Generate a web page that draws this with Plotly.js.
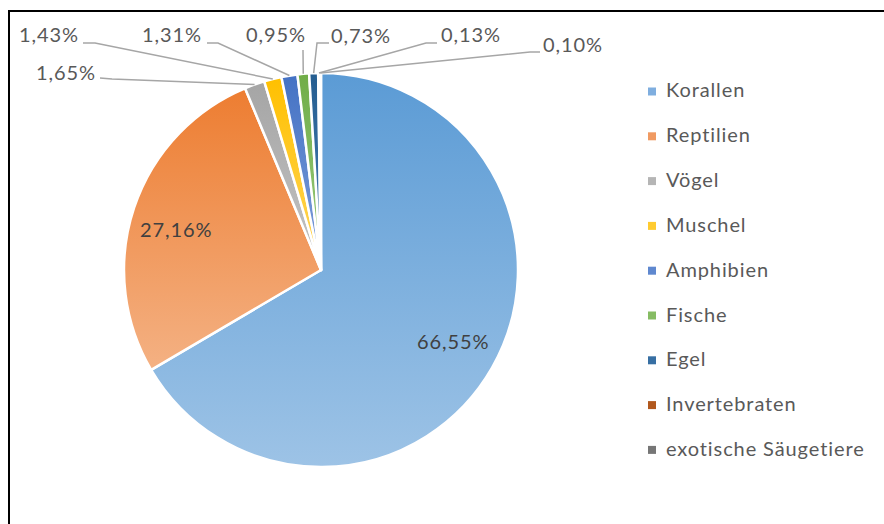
<!DOCTYPE html>
<html><head><meta charset="utf-8">
<script src="https://cdn.plot.ly/plotly-3.0.1.min.js"></script>
<style>html,body{margin:0;padding:0;background:#fff}#chart{width:884px;height:524px}
svg text{letter-spacing:0.9px}</style>
</head><body><div id="chart"></div>
<script>
// ---- data ----
const categories = ['Korallen','Reptilien','Vögel','Muschel','Amphibien','Fische','Egel','Invertebraten','exotische Säugetiere'];
const shares = [66.55, 27.16, 1.65, 1.43, 1.31, 0.95, 0.73, 0.13, 0.10];
const shareLabels = ['66,55%','27,16%','1,65%','1,43%','1,31%','0,95%','0,73%','0,13%','0,10%'];
const topColors = ['#5B9BD5','#ED7D31','#A5A5A5','#FFC000','#4472C4','#70AD47','#255E91','#9E480E','#636363'];
const bottomColors = ['#9DC3E6','#F4B183','#C4C4C4','#FFD65C','#7F9FDA','#9CCB80','#4A7FB5','#C4672C','#8A8A8A'];
const midColors = ['#7FAEDF','#F09A62','#B5B5B5','#FFCB30','#5F88CF','#86BC63','#376FA3','#B1581D','#767676'];

// ---- layout geometry (pixels) ----
const W = 884, H = 524;
const CX = 321, CY = 270, R = 197;
const px = x => x / W, py = y => 1 - y / H;

// label placement: text centre (t); for outside labels also line start (s) and knee (k)
const placement = {
  0: {t: [453, 341]},
  1: {t: [176, 229]},
  2: {t: [66, 72],  s: [100, 78], k: [112, 79]},
  3: {t: [49, 34],  s: [83, 43],  k: [95, 43]},
  4: {t: [172, 34], s: [207, 43], k: [218, 43]},
  5: {t: [276, 34], s: [303, 50], k: [303, 51]},
  6: {t: [361, 35], s: [329, 43], k: [317, 43]},
  7: {t: [471, 34], s: [437, 43], k: [426, 43]},
  8: {t: [573, 44], s: [540, 52], k: [530, 52]}
};

const total = shares.reduce((a, b) => a + b, 0);
let cum = 0;
const mids = shares.map(v => { const m = (cum + v / 2) / total * 2 * Math.PI; cum += v; return m; });
const pt = (ang, rr) => [CX + rr * Math.sin(ang), CY - rr * Math.cos(ang)];

const annotations = [];
const shapes = [];
const txtColor = '#595959';
const fontFam = 'Lato, "Open Sans", sans-serif';

shares.forEach((v, i) => {
  const o = placement[i];
  annotations.push({x: px(o.t[0]), y: py(o.t[1]), xref: 'paper', yref: 'paper', text: shareLabels[i],
    showarrow: false, xanchor: 'center', yanchor: 'middle',
    font: {family: fontFam, size: 20, color: i < 2 ? '#404040' : txtColor}});
  if (o.s) {
    const a = pt(mids[i], R);
    shapes.push({type: 'path', xref: 'paper', yref: 'paper',
      path: `M${px(o.s[0])},${py(o.s[1])} L${px(o.k[0])},${py(o.k[1])} L${px(a[0])},${py(a[1])}`,
      line: {color: '#A6A6A6', width: 1.5}});
  }
});

// manual legend
const LX = 648, LY0 = 91.5, LDY = 44.8;
categories.forEach((c, i) => {
  const y = LY0 + i * LDY;
  shapes.push({type: 'rect', xref: 'paper', yref: 'paper', x0: px(LX), x1: px(LX + 8), y0: py(y - 4), y1: py(y + 4),
    fillcolor: midColors[i], line: {width: 0}});
  annotations.push({x: px(664), y: py(y - 2), xref: 'paper', yref: 'paper', text: c, showarrow: false,
    xanchor: 'left', yanchor: 'middle', font: {family: fontFam, size: 20, color: txtColor}});
});

// frame (top + left edge)
shapes.push({type: 'path', xref: 'paper', yref: 'paper',
  path: `M${px(9)},${py(530)} L${px(9)},${py(11)} L${px(890)},${py(11)}`, line: {color: '#000', width: 2}});

const trace = {
  type: 'pie', labels: categories, values: shares, sort: false, direction: 'clockwise', rotation: 0,
  textinfo: 'none', hoverinfo: 'skip', showlegend: false,
  marker: {colors: midColors, line: {color: '#FFFFFF', width: 2.5}},
  domain: {x: [px(CX - R), px(CX + R)], y: [py(CY + R), py(CY - R)]}
};

const layout = {
  width: W, height: H, margin: {l: 0, r: 0, t: 0, b: 0, pad: 0},
  paper_bgcolor: '#FFFFFF', showlegend: false,
  annotations: annotations, shapes: shapes
};

Plotly.newPlot('chart', [trace], layout, {displayModeBar: false, staticPlot: true}).then(() => {
  const ns = 'http://www.w3.org/2000/svg';
  const svg = document.querySelector('#chart .main-svg');
  const defs = document.createElementNS(ns, 'defs');
  svg.insertBefore(defs, svg.firstChild);
  topColors.forEach((c, i) => {
    const lg = document.createElementNS(ns, 'linearGradient');
    lg.setAttribute('id', 'pg' + i);
    lg.setAttribute('x1', '0'); lg.setAttribute('y1', '0'); lg.setAttribute('x2', '0'); lg.setAttribute('y2', '1');
    [[0, c], [1, bottomColors[i]]].forEach(([o, col]) => {
      const s = document.createElementNS(ns, 'stop');
      s.setAttribute('offset', o); s.setAttribute('stop-color', col);
      lg.appendChild(s);
    });
    defs.appendChild(lg);
  });
  document.querySelectorAll('#chart g.slice path.surface').forEach((p, i) => {
    p.style.fill = 'url(#pg' + i + ')';
  });
});
</script>
</body></html>
